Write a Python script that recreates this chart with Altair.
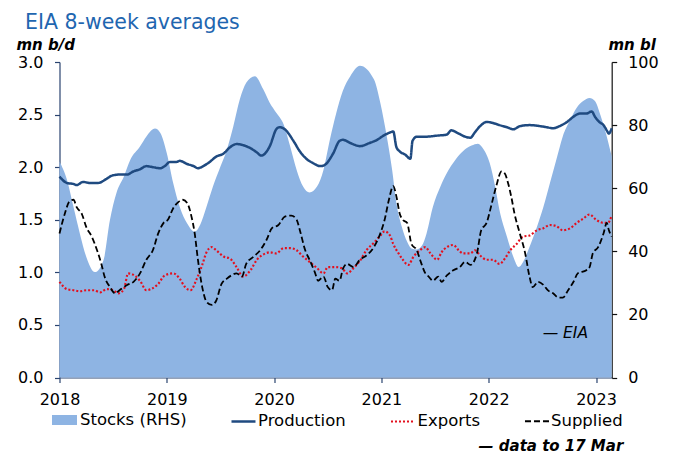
import altair as alt
import pandas as pd

FONT = "DejaVu Sans"
title_text = "EIA 8-week averages"
left_title = "mn b/d"
right_title = "mn bl"
eia_note = "— EIA"
date_note = "— data to 17 Mar"
year_ticks = [2018, 2019, 2020, 2021, 2022, 2023]
left_ticks = [0, 0.5, 1.0, 1.5, 2.0, 2.5, 3.0]
right_ticks = [0, 20, 40, 60, 80, 100]
series_order = ["Production", "Exports", "Supplied"]

# Stocks (RHS), mn bl
stock_t = [2018.00, 2018.07, 2018.13, 2018.19, 2018.25, 2018.33, 2018.41, 2018.47, 2018.53, 2018.60,
           2018.66, 2018.75, 2018.81, 2018.89, 2018.94, 2019.00, 2019.06, 2019.12, 2019.19, 2019.26,
           2019.31, 2019.37, 2019.43, 2019.50, 2019.56, 2019.62, 2019.68, 2019.74, 2019.82, 2019.90,
           2019.96, 2020.02, 2020.09, 2020.15, 2020.21, 2020.27, 2020.33, 2020.40, 2020.46, 2020.52,
           2020.58, 2020.64, 2020.71, 2020.80, 2020.93, 2020.99, 2021.05, 2021.10, 2021.14, 2021.19,
           2021.24, 2021.28, 2021.33, 2021.38, 2021.42, 2021.48, 2021.55, 2021.61, 2021.69, 2021.76,
           2021.84, 2021.90, 2021.95, 2022.01, 2022.06, 2022.10, 2022.17, 2022.23, 2022.28, 2022.32,
           2022.38, 2022.45, 2022.51, 2022.57, 2022.63, 2022.69, 2022.76, 2022.82, 2022.88, 2022.94,
           2022.99, 2023.04, 2023.10, 2023.146]
stock_v = [68.5, 62.6, 54.1, 45.6, 38.2, 33.4, 37.2, 49.9, 58.4, 63.7,
           69.0, 73.2, 76.4, 78.9, 77.5, 71.1, 61.6, 54.1, 48.8, 46.2,
           48.3, 54.1, 60.5, 66.9, 72.2, 79.6, 88.1, 93.4, 95.5, 91.3,
           87.0, 83.9, 80.1, 73.2, 65.8, 60.5, 58.6, 60.5, 65.8, 75.4,
           83.9, 90.8, 95.5, 98.8, 94.5, 87.0, 76.4, 65.8, 55.2, 47.8,
           43.0, 40.9, 40.6, 41.9, 45.6, 54.1, 60.5, 64.8, 69.0, 71.7,
           73.5, 74.1, 72.4, 67.9, 60.5, 53.1, 44.6, 38.2, 35.0, 36.6,
           41.4, 47.8, 54.1, 61.6, 69.0, 76.4, 81.7, 85.5, 87.6, 88.6,
           87.6, 83.3, 76.4, 70.1]

# Production, mn b/d
prod_t = [2018.00, 2018.07, 2018.13, 2018.16, 2018.22, 2018.28, 2018.36, 2018.44, 2018.49, 2018.56,
          2018.63, 2018.69, 2018.75, 2018.81, 2018.87, 2018.94, 2018.98, 2019.03, 2019.09, 2019.12,
          2019.19, 2019.25, 2019.29, 2019.34, 2019.40, 2019.46, 2019.53, 2019.59, 2019.65, 2019.71,
          2019.78, 2019.84, 2019.88, 2019.96, 2020.02, 2020.05, 2020.10, 2020.18, 2020.24, 2020.30,
          2020.36, 2020.43, 2020.47, 2020.55, 2020.61, 2020.64, 2020.71, 2020.80, 2020.89, 2020.96,
          2021.02, 2021.08, 2021.11, 2021.14, 2021.17, 2021.22, 2021.27, 2021.29, 2021.33, 2021.42,
          2021.52, 2021.61, 2021.65, 2021.72, 2021.78, 2021.83, 2021.87, 2021.92, 2021.98, 2022.04,
          2022.10, 2022.17, 2022.23, 2022.29, 2022.38, 2022.48, 2022.54, 2022.60, 2022.66, 2022.73,
          2022.79, 2022.85, 2022.91, 2022.96, 2022.99, 2023.03, 2023.07, 2023.10, 2023.12, 2023.146]
prod_v = [1.91, 1.85, 1.84, 1.83, 1.86, 1.85, 1.85, 1.89, 1.92, 1.93,
          1.93, 1.96, 1.98, 2.01, 2.00, 1.99, 2.01, 2.05, 2.05, 2.06,
          2.03, 2.01, 1.99, 2.01, 2.05, 2.10, 2.13, 2.19, 2.22, 2.21,
          2.18, 2.14, 2.11, 2.20, 2.36, 2.38, 2.36, 2.25, 2.15, 2.08,
          2.04, 2.01, 2.02, 2.13, 2.25, 2.26, 2.23, 2.20, 2.23, 2.26,
          2.30, 2.33, 2.34, 2.19, 2.15, 2.12, 2.08, 2.25, 2.29, 2.29,
          2.30, 2.31, 2.35, 2.32, 2.29, 2.28, 2.33, 2.39, 2.43, 2.42,
          2.40, 2.38, 2.36, 2.39, 2.40, 2.39, 2.38, 2.37, 2.39, 2.43,
          2.48, 2.51, 2.51, 2.53, 2.48, 2.43, 2.40, 2.35, 2.32, 2.37]

# Exports, mn b/d
exp_t = [2018.00, 2018.07, 2018.13, 2018.19, 2018.25, 2018.32, 2018.38, 2018.44, 2018.50, 2018.55,
         2018.60, 2018.64, 2018.70, 2018.75, 2018.81, 2018.87, 2018.92, 2018.98, 2019.06, 2019.12,
         2019.17, 2019.22, 2019.28, 2019.33, 2019.37, 2019.42, 2019.46, 2019.53, 2019.59, 2019.65,
         2019.71, 2019.78, 2019.84, 2019.90, 2019.96, 2020.02, 2020.09, 2020.15, 2020.21, 2020.27,
         2020.33, 2020.40, 2020.46, 2020.50, 2020.57, 2020.63, 2020.68, 2020.74, 2020.80, 2020.86,
         2020.93, 2020.99, 2021.03, 2021.08, 2021.11, 2021.16, 2021.20, 2021.25, 2021.30, 2021.36,
         2021.41, 2021.45, 2021.52, 2021.56, 2021.61, 2021.67, 2021.72, 2021.76, 2021.83, 2021.87,
         2021.92, 2021.98, 2022.04, 2022.10, 2022.15, 2022.20, 2022.26, 2022.32, 2022.38, 2022.45,
         2022.51, 2022.57, 2022.63, 2022.69, 2022.76, 2022.82, 2022.88, 2022.94, 2023.00, 2023.07,
         2023.11, 2023.146]
exp_v = [0.91, 0.84, 0.83, 0.82, 0.83, 0.83, 0.81, 0.84, 0.83, 0.80,
         0.84, 0.99, 0.97, 0.92, 0.83, 0.85, 0.89, 0.97, 0.99, 0.94,
         0.86, 0.83, 0.94, 1.07, 1.19, 1.24, 1.21, 1.15, 1.13, 1.05,
         0.96, 1.02, 1.12, 1.17, 1.19, 1.18, 1.23, 1.23, 1.21, 1.15,
         1.10, 1.04, 0.99, 1.05, 1.05, 1.04, 0.99, 1.04, 1.11, 1.21,
         1.28, 1.35, 1.39, 1.35, 1.27, 1.18, 1.12, 1.07, 1.15, 1.21,
         1.24, 1.19, 1.12, 1.19, 1.24, 1.26, 1.21, 1.18, 1.18, 1.21,
         1.16, 1.12, 1.12, 1.08, 1.13, 1.21, 1.27, 1.34, 1.35, 1.40,
         1.42, 1.45, 1.44, 1.40, 1.42, 1.47, 1.51, 1.55, 1.50, 1.47,
         1.47, 1.54]

# Supplied, mn b/d
sup_t = [2018.00, 2018.05, 2018.09, 2018.13, 2018.16, 2018.21, 2018.25, 2018.30, 2018.35, 2018.39,
         2018.42, 2018.47, 2018.52, 2018.56, 2018.63, 2018.69, 2018.75, 2018.81, 2018.87, 2018.92,
         2018.97, 2019.01, 2019.06, 2019.11, 2019.15, 2019.19, 2019.23, 2019.26, 2019.29, 2019.33,
         2019.37, 2019.42, 2019.46, 2019.51, 2019.56, 2019.60, 2019.65, 2019.70, 2019.74, 2019.81,
         2019.87, 2019.93, 2019.98, 2020.04, 2020.10, 2020.16, 2020.21, 2020.24, 2020.29, 2020.33,
         2020.38, 2020.41, 2020.46, 2020.50, 2020.54, 2020.57, 2020.61, 2020.64, 2020.68, 2020.74,
         2020.80, 2020.86, 2020.93, 2020.99, 2021.03, 2021.07, 2021.11, 2021.14, 2021.17, 2021.20,
         2021.24, 2021.28, 2021.33, 2021.36, 2021.41, 2021.44, 2021.48, 2021.53, 2021.56, 2021.61,
         2021.67, 2021.73, 2021.78, 2021.83, 2021.89, 2021.93, 2021.98, 2022.03, 2022.07, 2022.12,
         2022.15, 2022.18, 2022.21, 2022.24, 2022.29, 2022.34, 2022.38, 2022.41, 2022.46, 2022.51,
         2022.55, 2022.60, 2022.65, 2022.69, 2022.74, 2022.79, 2022.83, 2022.91, 2022.94, 2022.97,
         2023.02, 2023.07, 2023.10, 2023.12, 2023.146]
sup_v = [1.37, 1.56, 1.67, 1.69, 1.62, 1.55, 1.43, 1.34, 1.21, 1.08,
         0.96, 0.86, 0.80, 0.83, 0.88, 0.91, 0.99, 1.12, 1.21, 1.37,
         1.47, 1.50, 1.61, 1.67, 1.69, 1.66, 1.53, 1.37, 1.12, 0.86,
         0.72, 0.69, 0.73, 0.89, 0.94, 0.97, 0.99, 0.96, 1.08, 1.15,
         1.21, 1.31, 1.42, 1.45, 1.53, 1.54, 1.50, 1.40, 1.21, 1.12,
         1.00, 0.92, 0.96, 0.86, 0.83, 0.94, 0.92, 1.03, 1.08, 1.05,
         1.12, 1.16, 1.24, 1.37, 1.50, 1.69, 1.82, 1.72, 1.56, 1.50,
         1.47, 1.27, 1.21, 1.12, 0.99, 0.96, 0.92, 0.96, 0.91, 0.97,
         1.02, 1.05, 1.10, 1.07, 1.18, 1.40, 1.47, 1.66, 1.82, 1.96,
         1.94, 1.85, 1.72, 1.56, 1.37, 1.18, 0.96, 0.86, 0.91, 0.88,
         0.83, 0.80, 0.76, 0.76, 0.83, 0.91, 0.99, 1.02, 1.05, 1.18,
         1.24, 1.37, 1.47, 1.40, 1.34]

NAVY_AXIS = "#2A4470"
PROD_C = "#1F4A80"
RED_C = "#E3101E"
AREA_C = "#8EB4E3"
TITLE_C = "#1F66B0"

stocks_df = pd.DataFrame({"t": stock_t, "v": stock_v, "lab": "Stocks (RHS)"})
lines_df = pd.concat([
    pd.DataFrame({"t": prod_t, "v": prod_v, "series": "Production"}),
    pd.DataFrame({"t": exp_t, "v": exp_v, "series": "Exports"}),
    pd.DataFrame({"t": sup_t, "v": sup_v, "series": "Supplied"}),
], ignore_index=True)

x_scale = alt.Scale(domain=[2018, 2023.146], nice=False, zero=False)
x_axis = alt.Axis(values=year_ticks, format="d", title=None, labelPadding=9,
                  domainColor=NAVY_AXIS, tickColor=NAVY_AXIS, labelFlush=False)

area = alt.Chart(stocks_df).mark_area(interpolate="monotone", opacity=1).encode(
    x=alt.X("t:Q", scale=x_scale, axis=x_axis),
    y=alt.Y("v:Q", scale=alt.Scale(domain=[0, 100], nice=False),
            axis=alt.Axis(orient="right", values=right_ticks, title=right_title,
                          titleAngle=0, titleX=-3.7, titleY=-13, titleAlign="left",
                          titleBaseline="alphabetic", labelPadding=11,
                          domainColor="#111111", tickColor="#111111")),
    fill=alt.Fill("lab:N", scale=alt.Scale(domain=["Stocks (RHS)"], range=[AREA_C]),
                  legend=alt.Legend(title=None, orient="none", legendX=-7.5, legendY=345.5,
                                    symbolType="M-1,-0.4H1V0.4H-1Z", symbolSize=625,
                                    symbolStrokeWidth=0, labelFont=FONT, labelFontSize=16.5,
                                    labelColor="#000000", labelOffset=3, padding=0)),
)

leg = alt.Legend(title=None, orient="none", legendX=170.5, legendY=346, direction="horizontal",
                 symbolType="stroke", symbolSize=576, symbolStrokeWidth=2.5,
                 labelFont=FONT, labelFontSize=16.5, labelColor="#000000", labelOffset=1,
                 columnPadding=40.5, padding=0)

lines = alt.Chart(lines_df).mark_line(interpolate="monotone").encode(
    x=alt.X("t:Q", scale=x_scale, axis=x_axis),
    y=alt.Y("v:Q", scale=alt.Scale(domain=[0, 3], nice=False),
            axis=alt.Axis(orient="left", values=left_ticks, format=".1f", title=left_title,
                          titleAngle=0, titleX=-43.5, titleY=-13, titleAlign="left",
                          titleBaseline="alphabetic", labelPadding=11.5,
                          domainColor=NAVY_AXIS, tickColor=NAVY_AXIS)),
    color=alt.Color("series:N", scale=alt.Scale(domain=series_order, range=[PROD_C, RED_C, "#000000"]),
                    legend=leg),
    strokeDash=alt.StrokeDash("series:N", scale=alt.Scale(domain=series_order,
                                                           range=[[1, 0], [2, 2], [6, 3]]),
                              legend=leg),
    strokeWidth=alt.StrokeWidth("series:N", scale=alt.Scale(domain=series_order, range=[2.5, 1.8, 2.3]),
                                legend=None),
)

eia = alt.Chart(pd.DataFrame({"txt": [eia_note]})).mark_text(
    align="right", baseline="middle", font=FONT, fontSize=15.5, fontStyle="italic", color="#000000"
).encode(text="txt:N", x=alt.value(528.5), y=alt.value(271))

note = alt.Chart(pd.DataFrame({"txt": [date_note]})).mark_text(
    align="right", baseline="middle", font=FONT, fontSize=15, fontStyle="italic", fontWeight="bold",
    color="#000000"
).encode(text="txt:N", x=alt.value(563.8), y=alt.value(383.7))

chart = alt.layer(area, lines, eia, note).resolve_scale(
    y="independent"
).properties(
    width=552.2, height=315.5, autosize="none",
    padding={"left": 51.5, "top": 54, "right": 60, "bottom": 80},
    title=alt.TitleParams(text=title_text, anchor="start", font=FONT, fontSize=20.5,
                          fontWeight="normal", color=TITLE_C, dx=-34.5, frame="group"),
).configure_view(stroke=None).configure_axis(
    labelFont=FONT, labelFontSize=16, labelColor="#000000", tickSize=5, grid=False,
    titleFont=FONT, titleFontSize=15, titleFontStyle="italic", titleFontWeight="bold",
    titleColor="#000000", domainWidth=1.2, tickWidth=1.2
)

chart.save("out.html", embed_options={"renderer": "svg", "actions": False})
